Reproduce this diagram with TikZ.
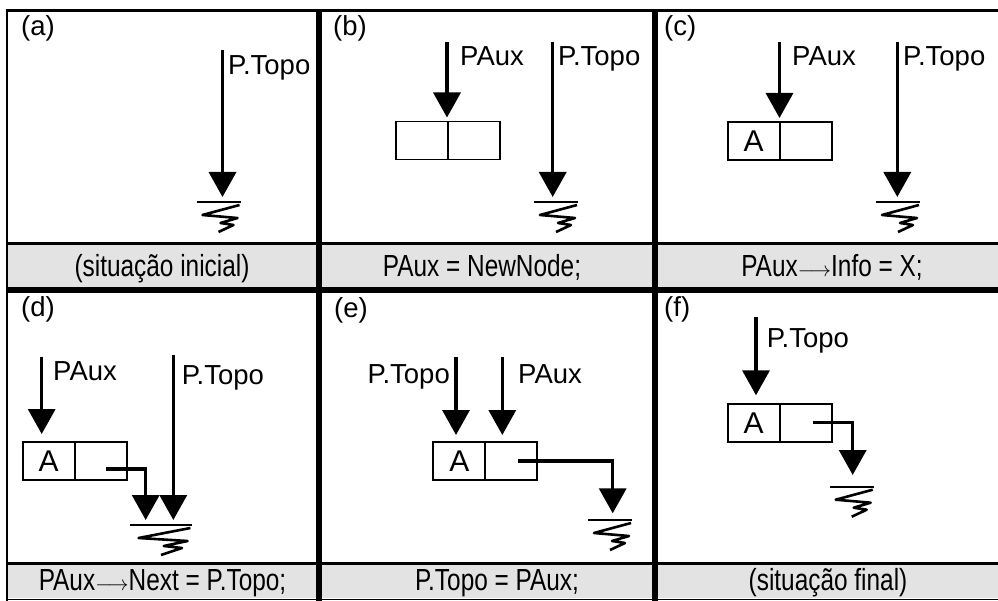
\documentclass[tikz,border=0pt]{standalone}
\usepackage{fontspec}
\setmainfont{Liberation Sans}
\newfontfamily\capfont[FakeStretch=0.8]{Liberation Sans}
\usetikzlibrary{arrows.meta}
\definecolor{capgray}{RGB}{227,227,227}
\newcommand{\larr}{{\fontsize{22}{22}\selectfont$\longrightarrow$}}
\begin{document}
\begin{tikzpicture}[x=1pt,y=-1pt,
  lbl/.style={font=\fontsize{27.5}{27.5}\selectfont, inner sep=0pt, anchor=base west},
  lble/.style={font=\fontsize{27.5}{27.5}\selectfont, inner sep=0pt, anchor=base east},
  ptr/.style={line width=3.5pt, -{Triangle[width=27pt,length=25pt]}},
  cellbox/.style={draw, line width=1.8pt, minimum width=52pt, minimum height=38pt, inner sep=0pt, outer sep=0pt, font=\fontsize{30}{30}\selectfont},
  captxt/.style={font=\capfont\fontsize{30.5}{30.5}\selectfont, inner sep=0pt, anchor=base},
  gnd/.pic={
    \draw[line width=2pt] (-22,0) -- (22,0);
    \draw[line width=2.6pt, line join=round] (21,3) -- (-16,13) -- (19,16) -- (2,21) -- (15,23) -- (0,30);
  }]
\useasboundingbox (0,0) rectangle (998,601);
% ---- frame ----
\fill[capgray] (7,245) rectangle (998,287);
\fill[capgray] (7,565) rectangle (998,598);
\draw[line width=2.5pt] (6,10.5) -- (998,10.5);
\draw[line width=3pt] (6,243.5) -- (998,243.5);
\draw[line width=6pt] (6,290) -- (998,290);
\draw[line width=3pt] (6,563.5) -- (998,563.5);
\draw[line width=1.5pt] (6,599.5) -- (998,599.5);
\draw[line width=2pt] (7,9.25) -- (7,601);
\draw[line width=6pt] (319,9.25) -- (319,601);
\draw[line width=6pt] (655,9.25) -- (655,601);
% ---- captions ----
\node[captxt] (capa) at (162,276.5) {(situação inicial)};
\node[captxt] (capb) at (482,276.5) {PAux = NewNode;};
\node[captxt] (capc) at (832,276.5) {PAux\larr Info = X;};
\node[captxt] (capd) at (162.5,590) {PAux\larr Next = P.Topo;};
\node[captxt] (cape) at (497,590) {P.Topo = PAux;};
\node[captxt] (capf) at (828,590) {(situação final)};
% ---- panel labels ----
\node[lbl] (la) at (21,36) {(a)};
\node[lbl] (lb) at (333,36) {(b)};
\node[lbl] (lc) at (664,36) {(c)};
\node[lbl] (ld) at (21,317) {(d)};
\node[lbl] (le) at (334,318) {(e)};
\node[lbl] (lf) at (664,317) {(f)};
% ================= (a) =================
\coordinate (aPT) at (222.5,50);
\coordinate (aG) at (218.5,202);
\pic at (aG) {gnd};
\draw[ptr, shorten >=5pt] (aPT) -- (aPT |- aG);
\node[lbl] (aPTl) at (228,75) {P.Topo};
% ================= (b) =================
\node[cellbox] (bL) at (422,140.5) {};
\node[cellbox] (bR) at (474,140.5) {};
\coordinate (bPA) at (447,42);
\draw[ptr, shorten >=4pt] (bPA) -- (bPA |- bL.north);
\node[lbl] (bPAl) at (460,66) {PAux};
\coordinate (bPT) at (552.7,42);
\coordinate (bG) at (556,202);
\pic at (bG) {gnd};
\draw[ptr, shorten >=5pt] (bPT) -- (bPT |- bG);
\node[lbl] (bPTl) at (558,66) {P.Topo};
% ================= (c) =================
\node[cellbox] (cL) at (753.7,141) {A};
\node[cellbox] (cR) at (805.7,141) {};
\coordinate (cPA) at (779.5,42);
\draw[ptr, shorten >=4pt] (cPA) -- (cPA |- cL.north);
\node[lbl] (cPAl) at (792,66) {PAux};
\coordinate (cPT) at (897.3,42);
\coordinate (cG) at (898,202);
\pic at (cG) {gnd};
\draw[ptr, shorten >=5pt] (cPT) -- (cPT |- cG);
\node[lbl] (cPTl) at (903,66) {P.Topo};
% ================= (d) =================
\node[cellbox] (dL) at (48.7,461) {A};
\node[cellbox] (dR) at (100.7,461) {};
\coordinate (dPA) at (41.7,356.7);
\draw[ptr, shorten >=8pt] (dPA) -- (dPA |- dL.north);
\node[lbl] (dPAl) at (53,380) {PAux};
\coordinate (dG) at (161,525);
\pic[xscale=1.4] at (dG) {gnd};
\coordinate (dPT) at (173.3,355);
\draw[ptr, shorten >=5pt] (dPT) -- (dPT |- dG);
\node[lbl] (dPTl) at (181.7,384) {P.Topo};
\coordinate (dN) at (106,469);
\coordinate (dNx) at (145.7,0);
\draw[ptr, shorten >=5pt] (dN) -| (dNx |- dG);
% ================= (e) =================
\node[cellbox] (eL) at (459.3,461) {A};
\node[cellbox] (eR) at (511.3,461) {};
\coordinate (ePT) at (456,356.7);
\draw[ptr, shorten >=7pt] (ePT) -- (ePT |- eL.north);
\node[lble] (ePTl) at (450,383) {P.Topo};
\coordinate (ePA) at (502.3,356.7);
\draw[ptr, shorten >=7pt] (ePA) -- (ePA |- eR.north);
\node[lbl] (ePAl) at (518,383) {PAux};
\coordinate (eG) at (610,520);
\pic at (eG) {gnd};
\coordinate (eN) at (518.3,461);
\coordinate (eNx) at (612.7,0);
\draw[ptr, shorten >=6.7pt] (eN) -| (eNx |- eG);
% ================= (f) =================
\node[cellbox] (fL) at (753.7,423.3) {A};
\node[cellbox] (fR) at (805.7,423.3) {};
\coordinate (fPT) at (756,316.7);
\draw[ptr, shorten >=9pt] (fPT) -- (fPT |- fL.north);
\node[lbl] (fPTl) at (766.7,348) {P.Topo};
\coordinate (fG) at (851.7,486.7);
\pic at (fG) {gnd};
\coordinate (fN) at (812.7,422.7);
\coordinate (fNx) at (852.7,0);
\draw[ptr, shorten >=11.7pt] (fN) -| (fNx |- fG);
\end{tikzpicture}
\end{document}
